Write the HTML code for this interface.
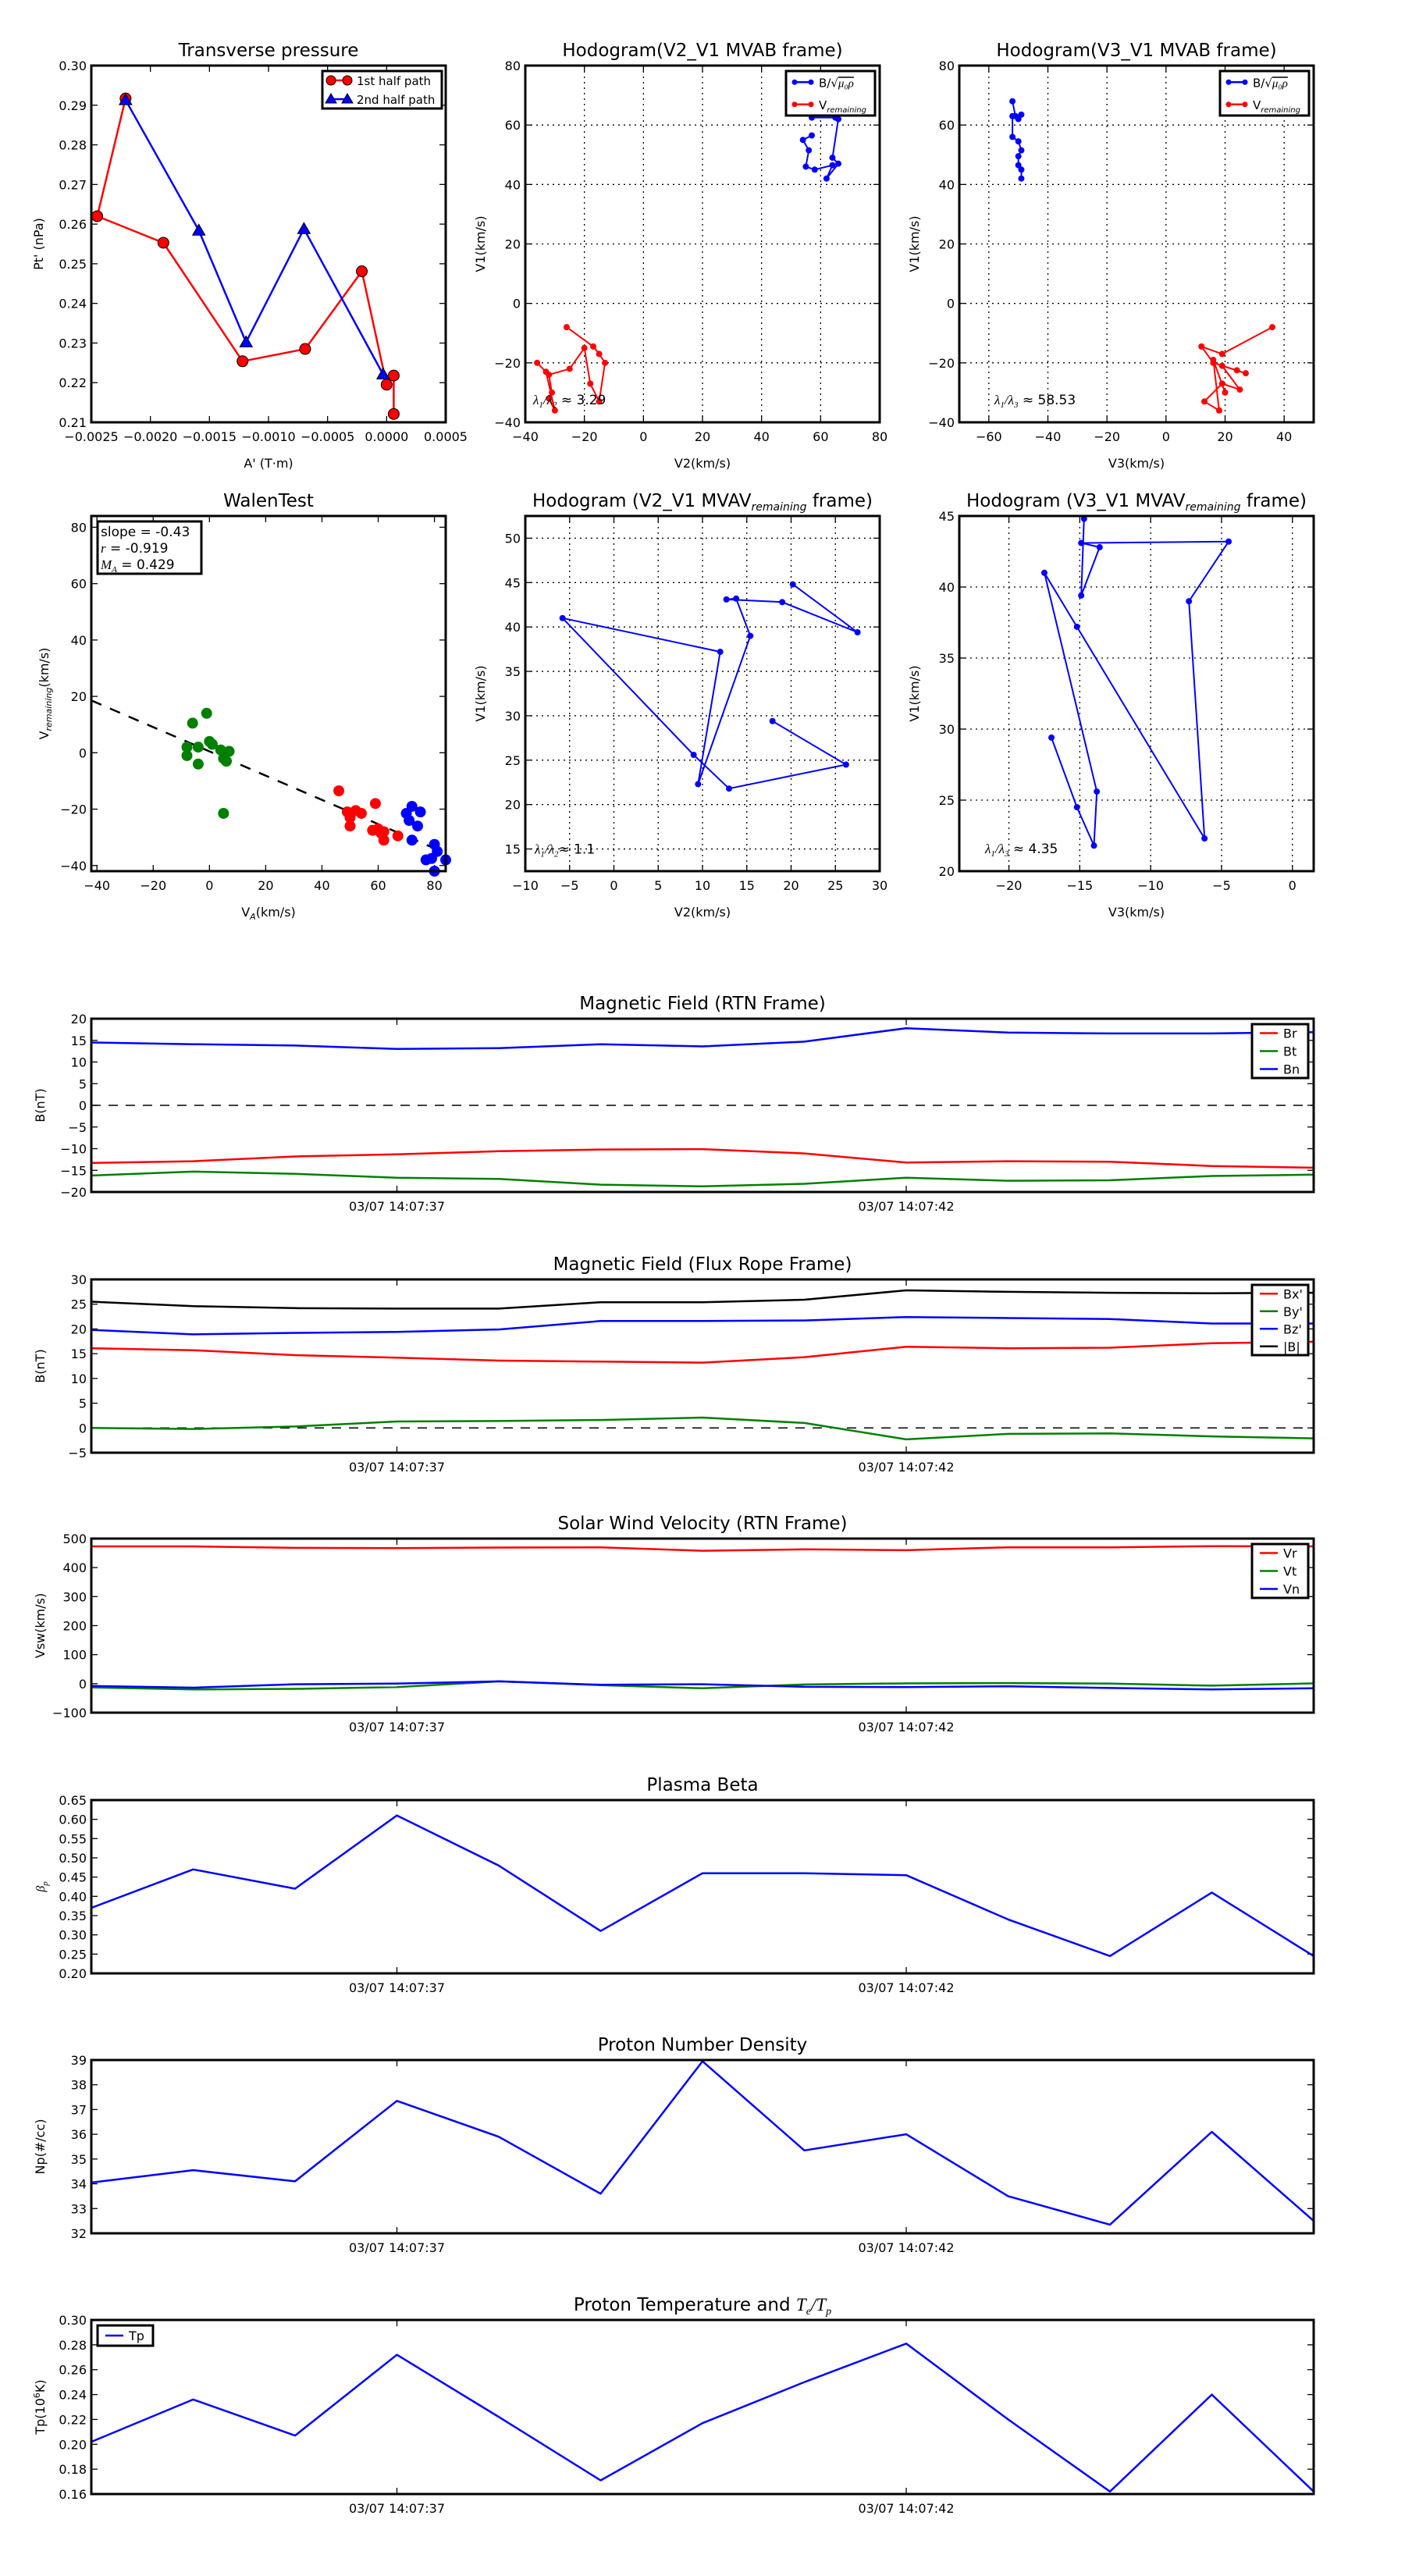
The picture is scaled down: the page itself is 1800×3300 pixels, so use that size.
<!DOCTYPE html>
<html><head><meta charset="utf-8"><style>
html,body{margin:0;padding:0;background:#fff;}
svg{display:block;font-family:"DejaVu Sans","Liberation Sans",sans-serif;}
</style></head><body>
<svg id="fig" width="1800" height="3300" viewBox="0 0 1800 3300" xmlns="http://www.w3.org/2000/svg"></svg>
<script>
// ---------- data ----------
const tpRedX=[-0.00221,-0.00245,-0.00189,-0.00122,-0.00069,-0.00021,0.0000,0.00006,0.00006];
const tpRedY=[0.2917,0.262,0.2553,0.2254,0.2285,0.2481,0.2195,0.2218,0.2121];
const tpBlueX=[-0.00221,-0.00159,-0.00119,-0.0007,-0.00003];
const tpBlueY=[0.2913,0.2584,0.2302,0.2588,0.2221];
const h1BlueX=[57,65,66,64,66,62,64,58,55,56,54,57];
const h1BlueY=[62.5,62.5,62,49,47,42,46.5,45,46,51.5,55,56.5];
const h1RedX=[-26,-17,-15,-13,-15,-18,-20,-25,-32,-31,-32,-30,-33,-36];
const h1RedY=[-8,-14.5,-17,-20,-33,-27,-15,-22,-24,-30,-32,-36,-23,-20];
const h3BlueX=[-52,-51,-50,-49,-52,-52,-50,-49,-50,-50,-49,-49];
const h3BlueY=[68,63,62,63.5,63,56,54.5,51.5,49.5,46.5,45,42];
const h3RedX=[36,19,12,16,24,27,19,25,19,13,18,16,20];
const h3RedY=[-8,-17,-14.5,-20,-22.5,-23.5,-21,-29,-27,-33,-36,-19,-30];
const walenGX=[-1,-6,-8,-8,-4,0,1,4,7,5,6,-4,5];
const walenGY=[14,10.5,2,-1,2,4,3,1,0.5,-2,-3,-4,-21.5];
const walenRX=[46,59,52,54,50,50,58,60,62,61,62,67,49];
const walenRY=[-13.5,-18,-20.5,-21.5,-23,-26,-27.5,-27,-28,-28.5,-31,-29.5,-21];
const walenBX=[72,75,70,71,74,72,80,81,77,79,84,80];
const walenBY=[-19,-21,-21.5,-24,-26,-31,-32.5,-35,-38,-37.5,-38,-42];
const walenSlope=-0.43, walenIntercept=0.5;
const mvV2=[20.2,27.5,19,12.7,13.8,15.4,9.5,12,-5.8,9,13,26.2,17.9];
const mvV1=[44.8,39.4,42.8,43.1,43.2,39,22.3,37.2,41,25.6,21.8,24.5,29.4];
const mvV3=[-14.7,-14.9,-13.6,-14.9,-4.5,-7.3,-6.2,-15.2,-17.5,-13.8,-14,-15.2,-17];
const tIdx=[0,1,2,3,4,5,6,7,8,9,10,11,12];
const timeTickIdx=[3,8];
const timeTickLabels=["03/07 14:07:37","03/07 14:07:42"];
const Br=[-13.3,-12.9,-11.8,-11.3,-10.6,-10.2,-10.1,-11.1,-13.2,-12.9,-13.0,-14.0,-14.4];
const Bt=[-16.2,-15.3,-15.8,-16.7,-17.0,-18.3,-18.7,-18.1,-16.7,-17.4,-17.3,-16.3,-16.0];
const Bn=[14.5,14.1,13.8,13.0,13.2,14.1,13.6,14.7,17.8,16.8,16.6,16.6,16.9];
const Bx=[16.1,15.7,14.7,14.2,13.6,13.4,13.2,14.3,16.4,16.1,16.2,17.1,17.4];
const By=[0,-0.2,0.3,1.3,1.4,1.6,2.1,1.0,-2.3,-1.2,-1.1,-1.7,-2.1];
const Bz=[19.8,18.9,19.2,19.4,19.9,21.6,21.6,21.7,22.4,22.2,22.0,21.1,21.1];
const Bmag=[25.5,24.6,24.2,24.1,24.1,25.4,25.4,25.9,27.8,27.5,27.3,27.2,27.3];
const Vr=[473,473,468,467,469,470,458,463,460,470,470,474,473];
const Vt=[-13,-20,-18,-12,8,-5,-16,-3,1,2,0,-7,1];
const Vn=[-8,-14,-2,0,8,-4,-2,-11,-12,-9,-15,-20,-16];
const beta=[0.37,0.47,0.42,0.61,0.48,0.31,0.46,0.46,0.455,0.34,0.245,0.41,0.245];
const Np=[34.05,34.55,34.1,37.35,35.9,33.6,38.95,35.35,36.0,33.5,32.35,36.1,32.5];
const Tp=[0.202,0.236,0.207,0.272,0.222,0.171,0.217,0.250,0.281,0.220,0.162,0.240,0.162];

// ---------- helpers ----------
const NS="http://www.w3.org/2000/svg";
const svg=document.getElementById('fig');
function mk(tag,attrs,parent,text){const e=document.createElementNS(NS,tag);for(const k in attrs)e.setAttribute(k,attrs[k]);if(text!==undefined)e.textContent=text;(parent||svg).appendChild(e);return e;}
function axes(name,x0,y0,x1,y1,xmin,xmax,ymin,ymax){
  const g=mk('g',{});
  
  
  return {g,x0,y0,x1,y1,sx:v=>x0+(v-xmin)/(xmax-xmin)*(x1-x0),sy:v=>y1-(v-ymin)/(ymax-ymin)*(y1-y0)};
}
function frame(a){const r=mk('rect',{x:a.x0,y:a.y0,width:a.x1-a.x0,height:a.y1-a.y0,fill:'none',stroke:'#000','stroke-width':3},a.g);}
function xticks(a,vals,labels,grid){vals.forEach((v,i)=>{const x=a.sx(v);
  if(grid)mk('line',{x1:x,y1:a.y0,x2:x,y2:a.y1,stroke:'#000','stroke-width':1.3,'stroke-dasharray':'2,5'},a.g);
  mk('line',{x1:x,y1:a.y1,x2:x,y2:a.y1-8,stroke:'#000','stroke-width':1.3},a.g);
  mk('line',{x1:x,y1:a.y0,x2:x,y2:a.y0+8,stroke:'#000','stroke-width':1.3},a.g);
  const t=mk('text',{x:x,y:a.y1+24,'font-size':16,'text-anchor':'middle'},a.g,labels[i]);
  });}
function yticks(a,vals,labels,grid){vals.forEach((v,i)=>{const y=a.sy(v);
  if(grid)mk('line',{x1:a.x0,y1:y,x2:a.x1,y2:y,stroke:'#000','stroke-width':1.3,'stroke-dasharray':'2,5'},a.g);
  mk('line',{x1:a.x0,y1:y,x2:a.x0+8,y2:y,stroke:'#000','stroke-width':1.3},a.g);
  mk('line',{x1:a.x1,y1:y,x2:a.x1-8,y2:y,stroke:'#000','stroke-width':1.3},a.g);
  const t=mk('text',{x:a.x0-6,y:y+6,'font-size':16,'text-anchor':'end'},a.g,labels[i]);
  });}
function title(a,txt){const t=mk('text',{x:(a.x0+a.x1)/2,y:a.y0-12,'font-size':23,'text-anchor':'middle'},a.g);t.innerHTML=txt;}
function xlabel(a,txt,dy){const t=mk('text',{x:(a.x0+a.x1)/2,y:a.y1+(dy||58),'font-size':16,'text-anchor':'middle'},a.g);t.innerHTML=txt;}
function ylabel(a,txt,dx){const x=a.x0-(dx||55),y=(a.y0+a.y1)/2;const t=mk('text',{x:x,y:y,'font-size':16,'text-anchor':'middle',transform:`rotate(-90 ${x} ${y})`},a.g);t.innerHTML=txt;}
function line(a,xs,ys,color,w,name){const d=xs.map((v,i)=>(i?'L':'M')+a.sx(v).toFixed(1)+','+a.sy(ys[i]).toFixed(1)).join('');const p=mk('path',{d:d,fill:'none',stroke:color,'stroke-width':w||2.5,'stroke-linejoin':'round'},a.g);return p;}
function dots(a,xs,ys,color,r,name,stroke){xs.forEach((v,i)=>{const c=mk('circle',{cx:a.sx(v),cy:a.sy(ys[i]),r:r,fill:color,stroke:stroke||'none','stroke-width':1},a.g);});}
function tris(a,xs,ys,color,s,name){xs.forEach((v,i)=>{const x=a.sx(v),y=a.sy(ys[i]);const p=mk('polygon',{points:`${x},${y-s} ${x-s},${y+s*0.75} ${x+s},${y+s*0.75}`,fill:color,stroke:'#000','stroke-width':1},a.g);});}
function legend(a,x,y,w,h,items){const g=mk('g',{},a.g);
  mk('rect',{x:x,y:y,width:w,height:h,fill:'#fff',stroke:'#000','stroke-width':3},g);
  items.forEach((it,i)=>{const yy=y+h/items.length*(i+0.5);
    const e=mk('g',{},g);
    mk('line',{x1:x+10,y1:yy,x2:x+33,y2:yy,stroke:it.c,'stroke-width':2.5},e);
    if(it.m==='o'){mk('circle',{cx:x+11,cy:yy,r:it.r||3.5,fill:it.c,stroke:it.s||'none'},e);mk('circle',{cx:x+32,cy:yy,r:it.r||3.5,fill:it.c,stroke:it.s||'none'},e);}
    if(it.m==='^'){[x+11,x+32].forEach(cx=>mk('polygon',{points:`${cx},${yy-7} ${cx-7},${yy+5} ${cx+7},${yy+5}`,fill:it.c,stroke:'#000'},e));}
    const t=mk('text',{x:x+(it.tx||48),y:yy+6,'font-size':it.fs||16},e);t.innerHTML=it.t;});}
const rng=(a,b,s)=>{const r=[];for(let v=a;v<=b+1e-9;v+=s)r.push(+v.toFixed(6));return r;};

// ---------- Transverse pressure ----------
(function(){const a=axes('transverse-pressure-chart',117,84,571,541,-0.0025,0.0005,0.21,0.30);
 const xv=rng(-0.0025,0.0005,0.0005);xticks(a,xv,xv.map(v=>(v<0?'\u2212':'')+Math.abs(v).toFixed(4)));
 const yv=rng(0.21,0.30,0.01);yticks(a,yv,yv.map(v=>v.toFixed(2)));
 line(a,tpRedX,tpRedY,'#f00',2.5,'first-half-path-line');line(a,tpBlueX,tpBlueY,'#00f',2.5,'second-half-path-line');
 dots(a,tpRedX,tpRedY,'#f00',7,'first-half-point','#000');tris(a,tpBlueX,tpBlueY,'#00f',8,'second-half-point');
 frame(a);title(a,'Transverse pressure');xlabel(a,"A' (T\u00b7m)");ylabel(a,"Pt' (nPa)",62);
 legend(a,413,91,153,48,[{c:'#f00',m:'o',r:6,s:'#000',t:'1st half path',fs:15,tx:44},{c:'#00f',m:'^',t:'2nd half path',fs:15,tx:44}]);})();

// ---------- Hodogram V2_V1 MVAB ----------
(function(){const a=axes('hodogram-v2-v1-mvab-chart',673,84,1127,541,-40,80,-40,80);
 const xv=rng(-40,80,20);xticks(a,xv,xv.map(v=>v<0?'\u2212'+(-v):''+v),true);
 const yv=rng(-40,80,20);yticks(a,yv,yv.map(v=>v<0?'\u2212'+(-v):''+v),true);
 line(a,h1BlueX,h1BlueY,'#00f',2,'b-alfven-path');dots(a,h1BlueX,h1BlueY,'#00f',4,'b-alfven-point');
 line(a,h1RedX,h1RedY,'#f00',2,'v-remaining-path');dots(a,h1RedX,h1RedY,'#f00',4,'v-remaining-point');
 frame(a);title(a,'Hodogram(V2_V1 MVAB frame)');xlabel(a,'V2(km/s)');ylabel(a,'V1(km/s)',52);
 const t=mk('text',{x:a.x0+10,y:a.sy(-34),'font-size':17},a.g);t.innerHTML='<tspan font-style="italic" font-family="Liberation Serif">λ<tspan font-size="11" dy="4">1</tspan><tspan dy="-4">/λ</tspan><tspan font-size="11" dy="4">2</tspan></tspan><tspan dy="-4"> ≈ 3.29</tspan>';
 
 legend(a,1007,91,114,57,[{c:'#00f',m:'o',t:'B/√<tspan text-decoration="overline" font-style="italic" font-family="Liberation Serif">μ₀ρ</tspan>',fs:15,tx:42},{c:'#f00',m:'o',t:'V<tspan font-size="10" dy="4" font-style="italic">remaining</tspan>',fs:15,tx:42}]);})();

// ---------- Hodogram V3_V1 MVAB ----------
(function(){const a=axes('hodogram-v3-v1-mvab-chart',1229,84,1683,541,-70,50,-40,80);
 const xv=rng(-60,40,20);xticks(a,xv,xv.map(v=>v<0?'\u2212'+(-v):''+v),true);
 const yv=rng(-40,80,20);yticks(a,yv,yv.map(v=>v<0?'\u2212'+(-v):''+v),true);
 line(a,h3BlueX,h3BlueY,'#00f',2,'b-alfven-path');dots(a,h3BlueX,h3BlueY,'#00f',4,'b-alfven-point');
 line(a,h3RedX,h3RedY,'#f00',2,'v-remaining-path');dots(a,h3RedX,h3RedY,'#f00',4,'v-remaining-point');
 frame(a);title(a,'Hodogram(V3_V1 MVAB frame)');xlabel(a,'V3(km/s)');ylabel(a,'V1(km/s)',52);
 const t=mk('text',{x:a.x0+45,y:a.sy(-34),'font-size':17},a.g);t.innerHTML='<tspan font-style="italic" font-family="Liberation Serif">λ<tspan font-size="11" dy="4">1</tspan><tspan dy="-4">/λ</tspan><tspan font-size="11" dy="4">3</tspan></tspan><tspan dy="-4"> ≈ 58.53</tspan>';
 
 legend(a,1563,91,114,57,[{c:'#00f',m:'o',t:'B/√<tspan text-decoration="overline" font-style="italic" font-family="Liberation Serif">μ₀ρ</tspan>',fs:15,tx:42},{c:'#f00',m:'o',t:'V<tspan font-size="10" dy="4" font-style="italic">remaining</tspan>',fs:15,tx:42}]);})();

// ---------- Walen test ----------
(function(){const a=axes('walen-test-chart',117,661,571,1116,-42,84,-42,84);
 const xv=rng(-40,80,20);xticks(a,xv,xv.map(v=>v<0?'\u2212'+(-v):''+v));
 const yv=rng(-40,80,20);yticks(a,yv,yv.map(v=>v<0?'\u2212'+(-v):''+v));
 const lx=[-42,84];const ly=lx.map(v=>walenSlope*v+walenIntercept);
 const l=line(a,lx,ly,'#000',2.5,'walen-fit-line');l.setAttribute('stroke-dasharray','14,12');
 dots(a,walenGX,walenGY,'#008000',7,'walen-point-green');dots(a,walenRX,walenRY,'#f00',7,'walen-point-red');dots(a,walenBX,walenBY,'#00f',7,'walen-point-blue');
 frame(a);title(a,'WalenTest');xlabel(a,'V<tspan font-size="11" dy="4" font-style="italic">A</tspan><tspan dy="-4">(km/s)</tspan>');
 ylabel(a,'V<tspan font-size="11" dy="4" font-style="italic">remaining</tspan><tspan dy="-4">(km/s)</tspan>',55);
 const g=mk('g',{},a.g);
 mk('rect',{x:125,y:668,width:133,height:67,fill:'#fff',stroke:'#000','stroke-width':3},g);
 mk('text',{x:129,y:687,'font-size':17},g,'slope = -0.43');
 const t2=mk('text',{x:129,y:708,'font-size':17},g);t2.innerHTML='<tspan font-style="italic" font-family="Liberation Serif">r</tspan> = -0.919';
 const t3=mk('text',{x:129,y:729,'font-size':17},g);t3.innerHTML='<tspan font-style="italic" font-family="Liberation Serif">M<tspan font-size="11" dy="4">A</tspan></tspan><tspan dy="-4"> = 0.429</tspan>';})();

// ---------- MVAV hodograms ----------
(function(){const a=axes('hodogram-v2-v1-mvav-chart',673,661,1127,1116,-10,30,12.5,52.5);
 const xv=rng(-10,30,5);xticks(a,xv,xv.map(v=>v<0?'\u2212'+(-v):''+v),true);
 const yv=rng(15,50,5);yticks(a,yv,yv.map(v=>''+v),true);
 line(a,mvV2,mvV1,'#00f',2,'hodogram-path');dots(a,mvV2,mvV1,'#00f',4,'hodogram-point');
 frame(a);title(a,'Hodogram (V2_V1 MVAV<tspan font-size="14" dy="5" font-style="italic">remaining</tspan><tspan dy="-5"> frame)</tspan>');xlabel(a,'V2(km/s)');ylabel(a,'V1(km/s)',52);
 const t=mk('text',{x:a.x0+12,y:a.sy(15)+6,'font-size':17},a.g);t.innerHTML='<tspan font-style="italic" font-family="Liberation Serif">λ<tspan font-size="11" dy="4">1</tspan><tspan dy="-4">/λ</tspan><tspan font-size="11" dy="4">2</tspan></tspan><tspan dy="-4">≈ 1.1</tspan>';
 })();
(function(){const a=axes('hodogram-v3-v1-mvav-chart',1229,661,1683,1116,-23.5,1.5,20,45);
 const xv=rng(-20,0,5);xticks(a,xv,xv.map(v=>v<0?'\u2212'+(-v):''+v),true);
 const yv=rng(20,45,5);yticks(a,yv,yv.map(v=>''+v),true);
 line(a,mvV3,mvV1,'#00f',2,'hodogram-path');dots(a,mvV3,mvV1,'#00f',4,'hodogram-point');
 frame(a);title(a,'Hodogram (V3_V1 MVAV<tspan font-size="14" dy="5" font-style="italic">remaining</tspan><tspan dy="-5"> frame)</tspan>');xlabel(a,'V3(km/s)');ylabel(a,'V1(km/s)',52);
 const t=mk('text',{x:a.x0+33,y:a.sy(21.7)+8,'font-size':17},a.g);t.innerHTML='<tspan font-style="italic" font-family="Liberation Serif">λ<tspan font-size="11" dy="4">1</tspan><tspan dy="-4">/λ</tspan><tspan font-size="11" dy="4">3</tspan></tspan><tspan dy="-4"> ≈ 4.35</tspan>';
 })();

// ---------- time series ----------
function ts(name,y0,y1,ymin,ymax,step,dec,ttl,ylab,series,leg,zero){
 const a=axes(name,117,y0,1683,y1,0,12,ymin,ymax);
 xticks(a,timeTickIdx,timeTickLabels);
 const yv=rng(ymin,ymax,step);yticks(a,yv,yv.map(v=>v<0?'\u2212'+(-v).toFixed(dec):v.toFixed(dec)));
 if(zero){const z=line(a,[0,12],[0,0],'#000',1.5,'zero-line');z.setAttribute('stroke-dasharray','12,10');}
 series.forEach(s=>line(a,tIdx,s.d,s.c,2.5,s.n));
 frame(a);title(a,ttl);ylabel(a,ylab,60);
 if(leg)legend(a,leg[0],leg[1],leg[2],leg[3],series.map(s=>({c:s.c,t:s.t,tx:40})));
}
ts('magnetic-field-rtn-chart',1305,1527,-20,20,5,0,'Magnetic Field (RTN Frame)','B(nT)',
 [{d:Br,c:'#f00',n:'br-line',t:'Br'},{d:Bt,c:'#008000',n:'bt-line',t:'Bt'},{d:Bn,c:'#00f',n:'bn-line',t:'Bn'}],[1604,1312,72,69],true);
ts('magnetic-field-flux-rope-chart',1639,1861,-5,30,5,0,'Magnetic Field (Flux Rope Frame)','B(nT)',
 [{d:Bx,c:'#f00',n:'bx-line',t:"Bx'"},{d:By,c:'#008000',n:'by-line',t:"By'"},{d:Bz,c:'#00f',n:'bz-line',t:"Bz'"},{d:Bmag,c:'#000',n:'bmag-line',t:'|B|'}],[1604,1646,72,90],true);
ts('solar-wind-velocity-chart',1971,2194,-100,500,100,0,'Solar Wind Velocity (RTN Frame)','Vsw(km/s)',
 [{d:Vr,c:'#f00',n:'vr-line',t:'Vr'},{d:Vt,c:'#008000',n:'vt-line',t:'Vt'},{d:Vn,c:'#00f',n:'vn-line',t:'Vn'}],[1604,1978,72,69],false);
ts('plasma-beta-chart',2306,2528,0.20,0.65,0.05,2,'Plasma Beta','<tspan font-style="italic" font-family="Liberation Serif">β<tspan font-size="11" dy="4">p</tspan></tspan>',
 [{d:beta,c:'#00f',n:'beta-line',t:'beta'}],null,false);
ts('proton-density-chart',2639,2861,32,39,1,0,'Proton Number Density','Np(#/cc)',
 [{d:Np,c:'#00f',n:'density-line',t:'Np'}],null,false);
ts('proton-temperature-chart',2972,3195,0.16,0.30,0.02,2,'Proton Temperature and <tspan font-style="italic" font-family="Liberation Serif">T<tspan font-size="14" dy="5">e</tspan><tspan dy="-5">/T</tspan><tspan font-size="14" dy="5">p</tspan></tspan>','Tp(10<tspan font-size="11" dy="-6">6</tspan><tspan dy="6">K)</tspan>',
 [{d:Tp,c:'#00f',n:'tp-line',t:'Tp'}],[125,2979,71,26],false);
</script>
</body></html>
